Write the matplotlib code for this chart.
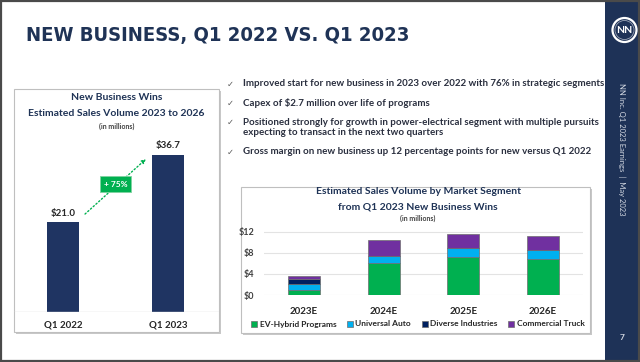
import matplotlib
matplotlib.use("Agg")
import matplotlib.pyplot as plt
from matplotlib.patches import Rectangle, Circle
from matplotlib import font_manager

plt.rcParams['font.family'] = ['Lato', 'DejaVu Sans']

# ---- data ----
wins_labels = ["Q1 2022", "Q1 2023"]
wins_values = [21.0, 36.7]

years = ["2023E", "2024E", "2025E", "2026E"]
ev_hybrid = [0.9, 6.0, 7.2, 6.8]
universal_auto = [1.1, 1.5, 1.7, 1.7]
diverse_ind = [1.1, 0.0, 0.0, 0.0]
commercial_truck = [0.6, 2.9, 2.7, 2.7]
seg_ticks = [0, 4, 8, 12]

bullets = [
    "Improved start for new business in 2023 over 2022 with 76% in strategic segments",
    "Capex of $2.7 million over life of programs",
    "Positioned strongly for growth in power-electrical segment with multiple pursuits\nexpecting to transact in the next two quarters",
    "Gross margin on new business up 12 percentage points for new versus Q1 2022",
]

NAVY = "#1F3356"
W, H = 640, 362


def rect(l, t, r, b):
    # pixel box -> figure fraction
    return [l / W, 1 - b / H, (r - l) / W, (b - t) / H]


def title_font():
    # look for a narrow / condensed bold face for the slide heading
    files = [f.fname for f in font_manager.fontManager.ttflist]
    for key in ["LiberationSansNarrow-Bold", "DejaVuSansCondensed-Bold",
                "Roboto-Bold", "LiberationSans-Bold"]:
        for fn in files:
            if key in fn:
                return font_manager.FontProperties(fname=fn), key
    return font_manager.FontProperties(family="DejaVu Sans", weight="bold"), "DejaVu"


fig = plt.figure(figsize=(6.4, 3.62), dpi=100)

# background layer in pixel coordinates
bg = fig.add_axes([0, 0, 1, 1], zorder=-1)
bg.set_xlim(0, W)
bg.set_ylim(H, 0)
bg.axis("off")

bg.add_patch(Rectangle((605, 0), 35, H, fc="#1E3257", ec="none"))
bg.add_patch(Rectangle((0.8, 0.8), W - 1.6, H - 1.6, fc="none", ec="#4A4A4A", lw=1.6))

# logo
bg.add_patch(Circle((624.5, 30), 12, fc="#1E3257", ec="white", lw=1.6))
bg.add_patch(Circle((624.5, 30), 9.5, fc="none", ec="#9AA3B5", lw=0.6))
bg.text(624.5, 30.5, "NN", color="white", fontsize=7.5, fontweight="bold",
        ha="center", va="center")
bg.text(622, 149, "NN Inc. Q1 2023 Earnings  |  May 2023", rotation=-90,
        color="#D3D8E2", fontsize=5.5, ha="center", va="center")
bg.text(622, 337, "7", color="#D3D8E2", fontsize=6, fontweight="bold",
        ha="center", va="center")

# slide title, sized to span the same width as the reference heading
tfp, tkey = title_font()
tfp.set_size(20)
ttl = bg.text(26, 36, "NEW BUSINESS, Q1 2022 VS. Q1 2023", color=NAVY,
              fontproperties=tfp, ha="left", va="center")
fig.canvas.draw()
tw = ttl.get_window_extent().width
tfp.set_size(min(24, 20 * 384 / tw))
ttl.set_fontproperties(tfp)

# chart boxes with shadow
for (l, t, w, h) in [(14, 89, 205, 243), (241, 187, 349, 146)]:
    bg.add_patch(Rectangle((l + 2, t + 2), w, h, fc="#C8C8C8", ec="none"))
    bg.add_patch(Rectangle((l, t), w, h, fc="white", ec="#BFBFBF", lw=0.8))

# bullets
bullet_y = [84, 103, 127.5, 152]
check_y = [84, 103, 122, 152]
for txt, y, cy in zip(bullets, bullet_y, check_y):
    bg.text(227, cy, "\u2713", color="#595959", fontsize=6,
            family="DejaVu Sans", ha="left", va="center")
    bg.text(243, y, txt, color="#2A2F3F", fontsize=7, fontweight="bold",
            ha="left", va="center", linespacing=1.1)

# ---- left chart ----
bg.text(116.5, 97, "New Business Wins", color=NAVY, fontsize=7.5,
        fontweight="bold", ha="center", va="center")
bg.text(116.5, 113, "Estimated Sales Volume 2023 to 2026", color=NAVY,
        fontsize=7.5, fontweight="bold", ha="center", va="center")
bg.text(116.5, 126, "(in millions)", color="#404040", fontsize=5,
        fontweight="bold", ha="center", va="center")

ax1 = fig.add_axes(rect(14, 140.4, 219, 312))
ax1.patch.set_alpha(0)
xs = list(range(len(wins_values)))
ax1.bar(xs, wins_values, width=0.305, color="#1F3462")
for x, v in zip(xs, wins_values):
    ax1.annotate("$%.1f" % v, (x, v), xytext=(0, 3), textcoords="offset points",
                 ha="center", va="bottom", fontsize=7, fontweight="bold",
                 color="#262626")
ax1.set_xlim(-0.467, 1.486)
ax1.set_ylim(0, 40)
ax1.axhline(0, color="#D9D9D9", lw=1)
for s in ax1.spines.values():
    s.set_visible(False)
ax1.set_yticks([])
ax1.set_xticks(xs)
ax1.set_xticklabels(wins_labels, fontsize=7, fontweight="bold", color="#262626")
ax1.tick_params(axis="x", length=0, pad=6)

growth = (wins_values[1] / wins_values[0] - 1) * 100
ax1.annotate("", xy=(0.81, 36.1), xytext=(0.19, 22.4),
             arrowprops=dict(arrowstyle="-|>", color="#00B050", linestyle=":",
                             lw=1, mutation_scale=6))
ax1.text(0.5, 29.8, "+ %d%%" % round(growth), color="white", fontsize=6,
         fontweight="bold", ha="center", va="center",
         bbox=dict(boxstyle="square,pad=0.5", fc="#00B050", ec="#7FD3A0", lw=0.6))

# ---- right chart ----
bg.text(418, 192, "Estimated Sales Volume by Market Segment", color=NAVY,
        fontsize=7.5, fontweight="bold", ha="center", va="center")
bg.text(418, 207, "from Q1 2023 New Business Wins", color=NAVY,
        fontsize=7.5, fontweight="bold", ha="center", va="center")
bg.text(418, 218, "(in millions)", color="#404040", fontsize=5,
        fontweight="bold", ha="center", va="center")

ax2 = fig.add_axes(rect(264, 228.8, 583, 295))
ax2.patch.set_alpha(0)
xp = list(range(len(years)))
series = [
    ("EV-Hybrid Programs", ev_hybrid, "#00B050"),
    ("Universal Auto", universal_auto, "#00B0F0"),
    ("Diverse Industries", diverse_ind, "#002060"),
    ("Commercial Truck", commercial_truck, "#7030A0"),
]
bottom = [0.0] * len(years)
handles = []
for name, vals, col in series:
    b = ax2.bar(xp, vals, width=0.4, bottom=bottom, color=col,
                edgecolor="#6E6E6E", lw=0.5, label=name)
    handles.append(b)
    bottom = [a + v for a, v in zip(bottom, vals)]
ax2.set_xlim(-0.5, 3.5)
ax2.set_ylim(0, 12.6)
ax2.set_axisbelow(True)
ax2.yaxis.grid(True, color="#E3E3E3", lw=0.8)
for s in ax2.spines.values():
    s.set_visible(False)
ax2.set_yticks(seg_ticks)
ax2.set_yticklabels(["$%d" % t for t in seg_ticks], fontsize=6.5,
                    fontweight="bold", color="#404040")
ax2.set_xticks(xp)
ax2.set_xticklabels(years, fontsize=7, fontweight="bold", color="#262626")
ax2.tick_params(axis="y", length=0, pad=7)
ax2.tick_params(axis="x", length=0, pad=9)

fig.legend(handles, [s[0] for s in series], loc="center",
           bbox_to_anchor=(418 / W, 1 - 324 / H), ncol=4, frameon=False,
           prop=dict(size=6.0, weight="bold"), handlelength=0.7,
           handleheight=0.7, handletextpad=0.3, columnspacing=1.3,
           labelcolor="#262626")

fig.savefig("out.png", dpi=100)
